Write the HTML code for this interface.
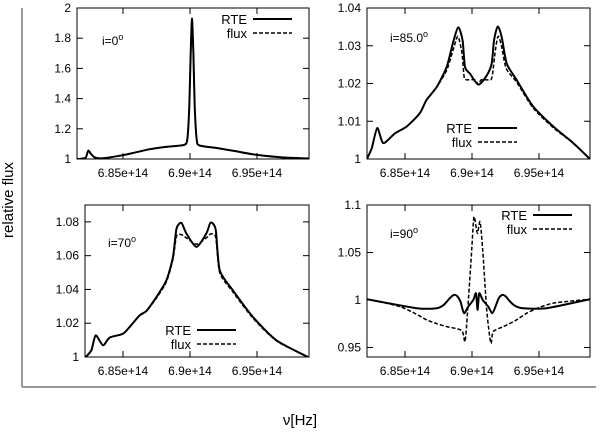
<!DOCTYPE html>
<html><head><meta charset="utf-8"><style>
html,body{margin:0;padding:0;background:#fff;}
svg{display:block;font-family:"Liberation Sans",sans-serif;}
</style></head><body>
<svg id="chart" width="600" height="434" viewBox="0 0 600 434">
<line x1="22" y1="8" x2="22" y2="387" stroke="#555" stroke-width="1.2"/>
<line x1="22" y1="387" x2="596" y2="387" stroke="#999" stroke-width="2"/>
<text x="13" y="200" font-size="15" text-anchor="middle" transform="rotate(-90 13 200)">relative flux</text>
<text x="300" y="425" font-size="15" text-anchor="middle">ν[Hz]</text>
</svg>
<script>
// shared x ticks
const xTickVals = [6.85, 6.9, 6.95];
const xTickLabels = ["6.85e+14", "6.9e+14", "6.95e+14"];

// panel i=0
const tlX = [6.816,6.822,6.824,6.826,6.829,6.835,6.85,6.86,6.87,6.88,6.89,6.896,6.898,6.8995,6.9005,6.9015,6.9025,6.9035,6.905,6.907,6.92,6.935,6.95,6.97,6.989];
const tlRTE = [1.0,1.008,1.055,1.035,1.01,1.005,1.025,1.045,1.065,1.078,1.087,1.095,1.13,1.35,1.7,1.93,1.7,1.35,1.13,1.09,1.073,1.05,1.027,1.01,1.003];
const tlFlux = [1.0,1.008,1.055,1.035,1.01,1.005,1.025,1.045,1.065,1.078,1.087,1.095,1.13,1.35,1.7,1.93,1.7,1.35,1.13,1.09,1.073,1.05,1.027,1.01,1.003];
const tlYTicks = [1,1.2,1.4,1.6,1.8,2];
const tlYLabels = ["1","1.2","1.4","1.6","1.8","2"];

// panel i=85
const trX = [6.8216,6.8252,6.8293,6.8338,6.8425,6.8513,6.861,6.866,6.8737,6.8811,6.886,6.8898,6.893,6.8948,6.8985,6.9047,6.911,6.9147,6.9164,6.9192,6.9222,6.9259,6.9334,6.9457,6.9607,6.9756,6.988];
const trRTE = [1.0,1.0029,1.0082,1.0042,1.0068,1.0086,1.0121,1.0156,1.0191,1.0244,1.031,1.0349,1.0314,1.0244,1.0226,1.0197,1.0221,1.0253,1.0314,1.0351,1.0323,1.0253,1.0209,1.0139,1.0086,1.0042,1.0];
const trFluxX = [6.8216,6.8252,6.8293,6.8338,6.8425,6.8513,6.861,6.866,6.8737,6.8811,6.886,6.8895,6.8925,6.894,6.8955,6.902,6.9047,6.907,6.914,6.9155,6.9175,6.9195,6.922,6.9255,6.9334,6.9457,6.9607,6.9756,6.988];
const trFlux = [1.0,1.0029,1.0082,1.0042,1.0068,1.0086,1.0121,1.0156,1.0191,1.0235,1.029,1.0325,1.028,1.022,1.021,1.021,1.0198,1.021,1.021,1.023,1.029,1.0325,1.030,1.024,1.0203,1.0135,1.0083,1.0042,1.0];
const trYTicks = [1,1.01,1.02,1.03,1.04];
const trYLabels = ["1","1.01","1.02","1.03","1.04"];

// panel i=70
const blX = [6.8222,6.8264,6.8296,6.8351,6.84,6.85,6.855,6.8625,6.8675,6.875,6.8824,6.8873,6.8899,6.8936,6.8973,6.9048,6.9122,6.9154,6.9192,6.9222,6.932,6.947,6.9645,6.988];
const blRTE = [1.0,1.004,1.0128,1.0069,1.0115,1.0138,1.0178,1.0247,1.0273,1.0356,1.0454,1.0593,1.076,1.0794,1.0731,1.0652,1.0731,1.0796,1.0754,1.0514,1.0395,1.0237,1.0099,1.0];
const blFlux = [1.0,1.004,1.0128,1.0069,1.0115,1.0138,1.0178,1.0247,1.0273,1.035,1.0445,1.058,1.0715,1.0725,1.0705,1.0668,1.0705,1.0728,1.071,1.05,1.0385,1.023,1.0096,1.0];
const blYTicks = [1,1.02,1.04,1.06,1.08];
const blYLabels = ["1","1.02","1.04","1.06","1.08"];

// panel i=90
const brX = [6.8214,6.8587,6.8737,6.879,6.8835,6.8866,6.889,6.8915,6.894,6.8972,6.901,6.903,6.9042,6.9054,6.908,6.9121,6.9151,6.9175,6.92,6.9226,6.925,6.928,6.932,6.938,6.9557,6.988];
const brRTE = [1.0008,0.9914,0.9914,0.995,1.002,1.0054,1.004,0.998,0.9861,0.9931,1.0001,1.0071,0.9896,1.0071,1.0001,0.9931,0.9861,0.993,1.002,1.0054,1.004,0.999,0.994,0.9914,0.9914,1.0008];
const brFluxX = [6.8214,6.835,6.8463,6.856,6.8662,6.874,6.8811,6.8923,6.8948,6.8968,6.8998,6.9015,6.904,6.906,6.908,6.911,6.914,6.9159,6.9234,6.932,6.9408,6.95,6.9607,6.975,6.988];
const brFlux = [1.0008,0.997,0.993,0.987,0.9791,0.975,0.972,0.9679,0.9563,0.9896,1.0527,1.0877,1.0702,1.0825,1.0527,0.9896,0.9546,0.9668,0.972,0.978,0.9861,0.992,0.9967,0.999,1.0008];
const brYTicks = [0.95,1,1.05,1.1];
const brYLabels = ["0.95","1","1.05","1.1"];

const NS = "http://www.w3.org/2000/svg";
const svg = document.getElementById("chart");
function mk(tag, attrs, parent){
  const e = document.createElementNS(NS, tag);
  for (const k in attrs) e.setAttribute(k, attrs[k]);
  (parent||svg).appendChild(e);
  return e;
}
function smoothPath(p){
  let d = "M" + p[0][0].toFixed(1) + "," + p[0][1].toFixed(1);
  const k = 0.12;
  for (let i = 0; i < p.length - 1; i++){
    const p0 = p[i-1] || p[i], p1 = p[i], p2 = p[i+1], p3 = p[i+2] || p[i+1];
    const c1x = p1[0] + (p2[0]-p0[0])*k, c1y = p1[1] + (p2[1]-p0[1])*k;
    const c2x = p2[0] - (p3[0]-p1[0])*k, c2y = p2[1] - (p3[1]-p1[1])*k;
    d += " C" + c1x.toFixed(1) + "," + c1y.toFixed(1) + " " + c2x.toFixed(1) + "," + c2y.toFixed(1) + " " + p2[0].toFixed(1) + "," + p2[1].toFixed(1);
  }
  return d;
}
let clipId = 0;
function panel(cfg){
  const g = mk("g", {});
  
  
  const sx = v => cfg.tick0 + (v - 6.85) / 0.05 * 67;
  const sy = v => cfg.y1 - (v - cfg.ymin) / (cfg.ymax - cfg.ymin) * (cfg.y1 - cfg.y0);
  const id = "c" + (clipId++);
  const cp = mk("clipPath", {id: id}, g);
  mk("rect", {x: cfg.x0, y: cfg.y0, width: cfg.x1 - cfg.x0, height: cfg.y1 - cfg.y0}, cp);
  xTickVals.forEach((v, i) => {
    const x = sx(v);
    const t1 = mk("line", {x1: x, y1: cfg.y1, x2: x, y2: cfg.y1 - 6, stroke: "#000"}, g);
    
    
    mk("line", {x1: x, y1: cfg.y0, x2: x, y2: cfg.y0 + 6, stroke: "#000"}, g);
    const tx = mk("text", {x: x, y: cfg.y1 + 18, "font-size": 12, "text-anchor": "middle"}, g);
    tx.textContent = xTickLabels[i];
    
    
  });
  cfg.yt.forEach((v, i) => {
    const y = sy(v);
    mk("line", {x1: cfg.x0, y1: y, x2: cfg.x0 + 6, y2: y, stroke: "#000"}, g);
    mk("line", {x1: cfg.x1, y1: y, x2: cfg.x1 - 6, y2: y, stroke: "#000"}, g);
    const tx = mk("text", {x: cfg.x0 - 6, y: y + 4, "font-size": 12, "text-anchor": "end"}, g);
    tx.textContent = cfg.yl[i];
    
    
  });
  const box = mk("rect", {x: cfg.x0, y: cfg.y0, width: cfg.x1 - cfg.x0, height: cfg.y1 - cfg.y0, fill: "none", stroke: "#000", "stroke-width": 1}, g);
  
  
  const pts = (xs, ys) => xs.map((x, i) => [sx(x), sy(ys[i])]);
  const f = mk("path", {d: smoothPath(pts(cfg.fx, cfg.flux)), fill: "none", stroke: "#000", "stroke-width": 1.5, "stroke-dasharray": "4,2", "clip-path": "url(#" + id + ")"}, g);
  
  
  const r = mk("path", {d: smoothPath(pts(cfg.x, cfg.rte)), fill: "none", stroke: "#000", "stroke-width": 2, "stroke-linejoin": "round", "clip-path": "url(#" + id + ")"}, g);
  
  
  const L = cfg.leg;
  const lg = mk("g", {}, g);
  
  
  const t1 = mk("text", {x: L[0] - 6, y: L[1] + 5, "font-size": 13, "text-anchor": "end"}, lg);
  t1.textContent = "RTE";
  mk("line", {x1: L[0], y1: L[1], x2: L[0] + 39, y2: L[1], stroke: "#000", "stroke-width": 2}, lg);
  const t2 = mk("text", {x: L[0] - 6, y: L[1] + 19, "font-size": 13, "text-anchor": "end"}, lg);
  t2.textContent = "flux";
  mk("line", {x1: L[0], y1: L[1] + 14, x2: L[0] + 39, y2: L[1] + 14, stroke: "#000", "stroke-width": 1.5, "stroke-dasharray": "4,2"}, lg);
  const lab = mk("text", {x: cfg.lab[0], y: cfg.lab[1], "font-size": 12}, g);
  lab.textContent = cfg.label;
  const sup = mk("tspan", {dy: -5, "font-size": 9}, lab);
  sup.textContent = "o";
  
  
}
panel({name:"panel-i0", x0:77, x1:309, y0:8, y1:159, tick0:123, ymin:1, ymax:2, yt:tlYTicks, yl:tlYLabels,
  x:tlX, rte:tlRTE, fx:tlX, flux:tlFlux, leg:[253,19], lab:[102,45], label:"i=0"});
panel({name:"panel-i85", x0:367, x1:590, y0:8, y1:159, tick0:405, ymin:1, ymax:1.04, yt:trYTicks, yl:trYLabels,
  x:trX, rte:trRTE, fx:trFluxX, flux:trFlux, leg:[478,128], lab:[390,42], label:"i=85.0"});
panel({name:"panel-i70", x0:85, x1:309, y0:205, y1:357, tick0:123, ymin:1, ymax:1.09, yt:blYTicks, yl:blYLabels,
  x:blX, rte:blRTE, fx:blX, flux:blFlux, leg:[197,330], lab:[108,247], label:"i=70"});
panel({name:"panel-i90", x0:367, x1:590, y0:205, y1:357, tick0:405, ymin:0.94, ymax:1.1, yt:brYTicks, yl:brYLabels,
  x:brX, rte:brRTE, fx:brFluxX, flux:brFlux, leg:[533,215], lab:[390,238], label:"i=90"});
</script>
</body></html>
